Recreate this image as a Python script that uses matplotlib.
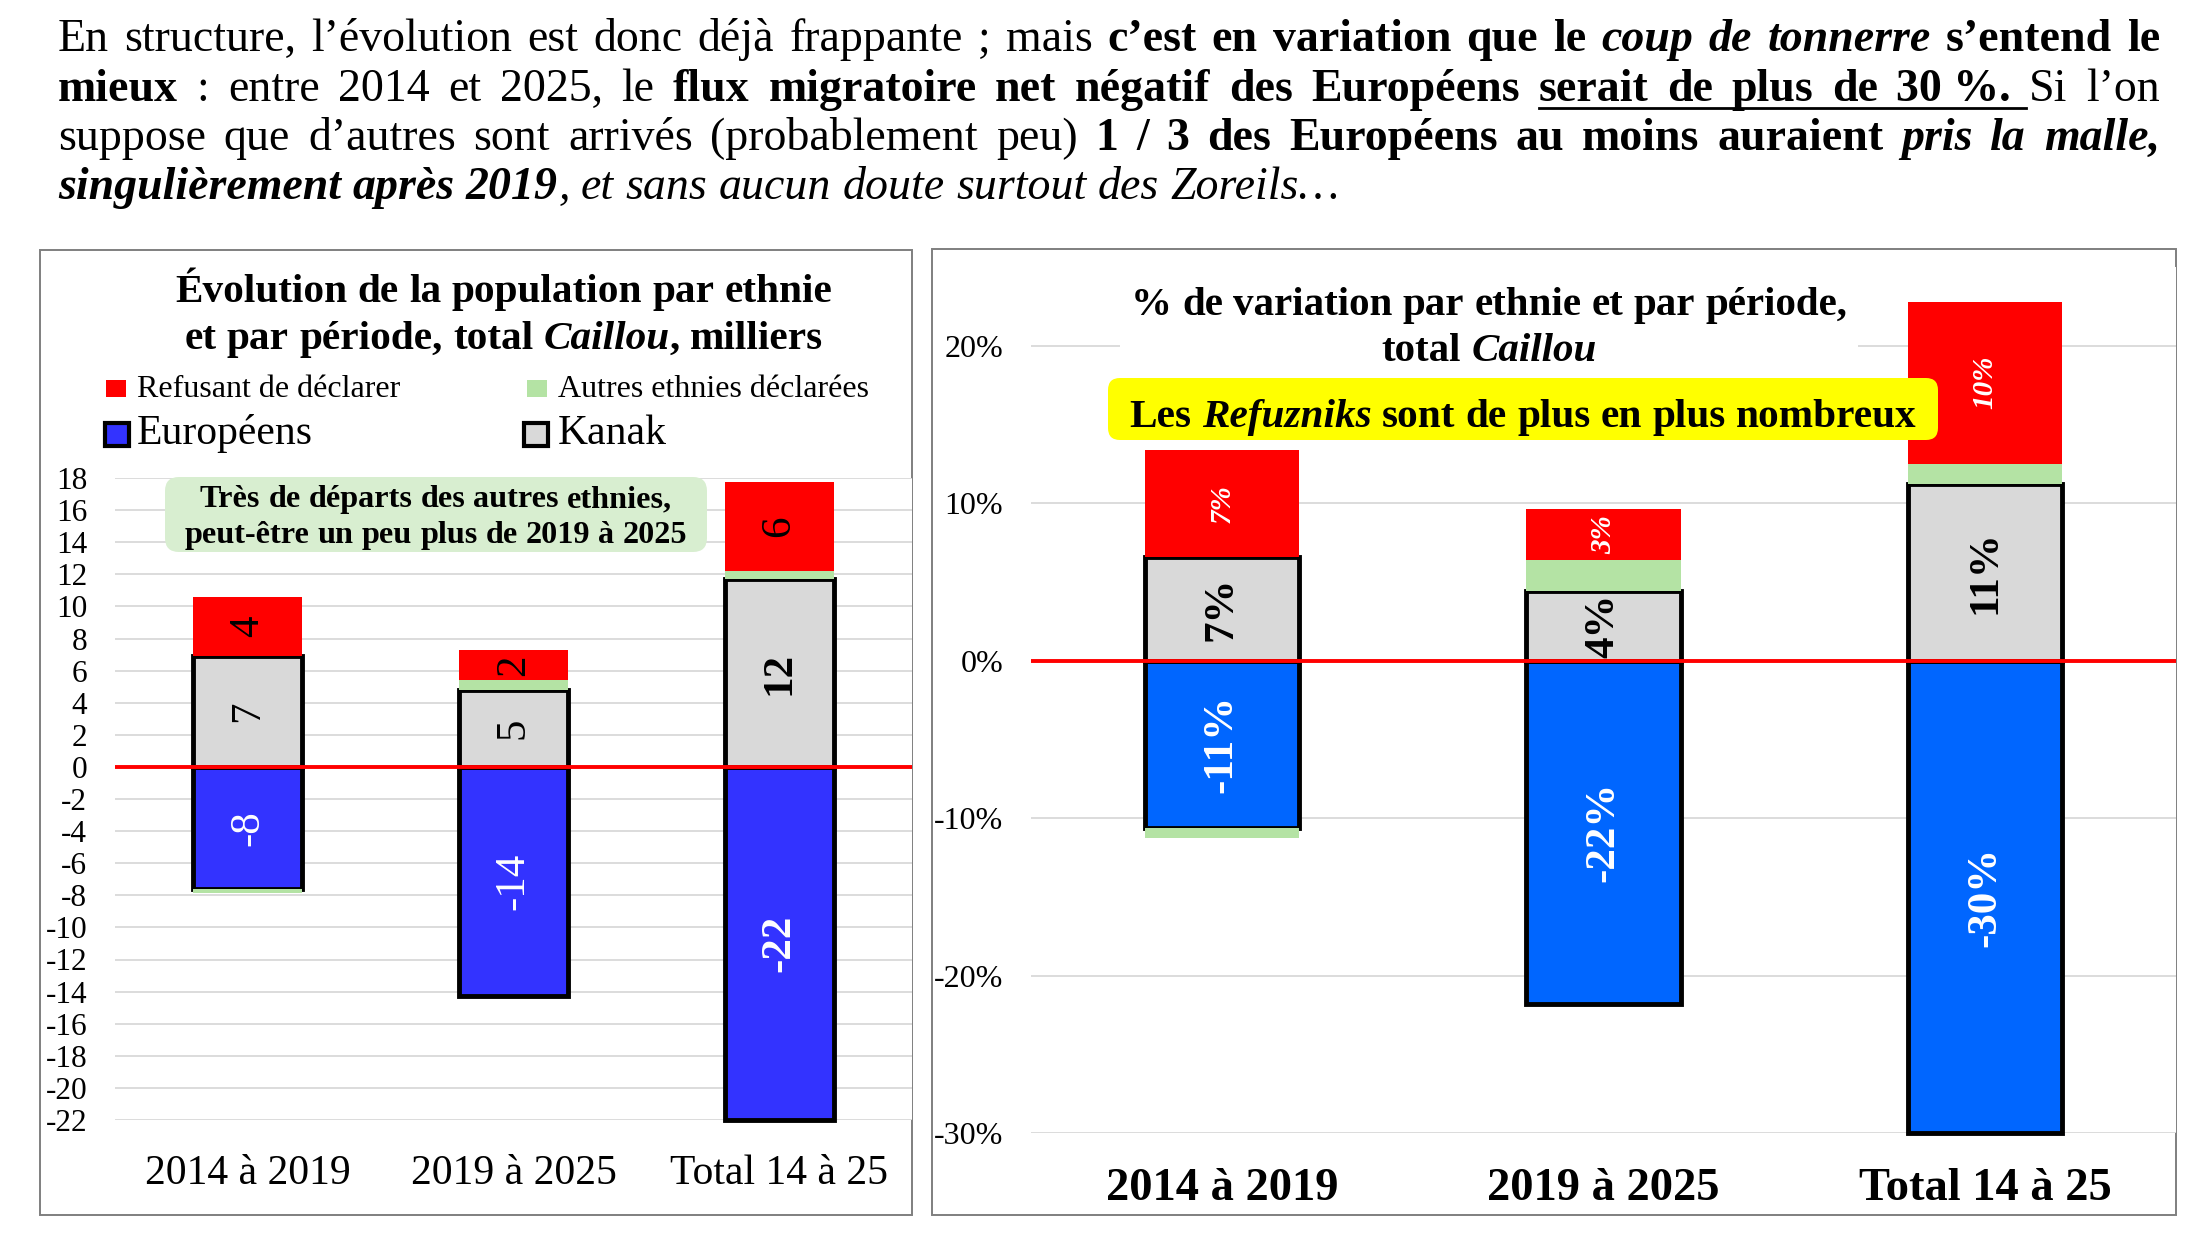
import numpy as np
import matplotlib.pyplot as plt
from matplotlib.patches import Rectangle, FancyBboxPatch
from matplotlib.lines import Line2D
from matplotlib.transforms import IdentityTransform
from matplotlib.ticker import PercentFormatter

plt.rcParams['font.family'] = ['Liberation Serif', 'DejaVu Serif']
plt.rcParams['axes.unicode_minus'] = False

# --- data -------------------------------------------------------------
categories = ["2014 à 2019", "2019 à 2025", "Total 14 à 25"]

# milliers
euro_k = [-7.6, -14.3, -22.0]
kanak_k = [6.9, 4.8, 11.7]
autres_k = [-0.25, 0.6, 0.5]
refus_k = [3.7, 1.9, 5.55]

# % de variation
euro_pct = [-0.106, -0.218, -0.300]
kanak_pct = [0.066, 0.044, 0.112]
autres_pct = [-0.0065, 0.020, 0.013]
refus_pct = [0.068, 0.032, 0.103]

left_ticks = np.arange(-22, 19, 2)
right_ticks = [-0.3, -0.2, -0.1, 0.0, 0.1, 0.2]

RED = '#FF0000'
GREEN = '#B4E3A4'
GREY = '#D9D9D9'
BLUE_L = '#3333FF'
BLUE_R = '#0066FF'

W, H = 2200, 1238
fig = plt.figure(figsize=(W / 100, H / 100), dpi=100)
renderer = fig.canvas.get_renderer()


def fx(x):
    return x / W


def fy(y):
    return 1 - y / H


def tokenise(runs):
    toks = []
    pending = False
    for run in runs:
        text, wt, st = run[0], run[1], run[2]
        ul = run[3] if len(run) > 3 else False
        parts = text.split(' ')
        for i, p in enumerate(parts):
            if i > 0:
                pending = True
            if p:
                toks.append(dict(w=p, wt=wt, st=st, ul=ul,
                                 sb=pending and len(toks) > 0))
                pending = False
    return toks


def draw_line(runs, y, size, x0=None, x1=None, xc=None, color='black'):
    toks = tokenise(runs)
    for tok in toks:
        t = fig.text(0, fy(y), tok['w'], fontsize=size, fontweight=tok['wt'],
                     fontstyle=tok['st'], ha='left', va='baseline', color=color,
                     zorder=6)
        tok['t'] = t
        tok['width'] = t.get_window_extent(renderer).width
    nsp = sum(tok['sb'] for tok in toks)
    total = sum(tok['width'] for tok in toks)
    if x0 is not None and x1 is not None:
        gap = (x1 - x0 - total) / max(nsp, 1)
        start = x0
    else:
        gap = size * 100 / 72 * 0.25
        if xc is not None:
            start = xc - (total + gap * nsp) / 2
        else:
            start = x0
    x = start
    for tok in toks:
        if tok['sb']:
            x += gap
        tok['t'].set_x(fx(x))
        tok['x'] = x
        x += tok['width']
    ul = [tok for tok in toks if tok['ul']]
    if ul:
        a = ul[0]['x']
        b = ul[-1]['x'] + ul[-1]['width'] + gap * 0.8
        fig.add_artist(Line2D([fx(a), fx(b)], [fy(y + 7)] * 2, color='black', lw=2))
    return toks


# --- paragraph on top -------------------------------------------------
TX0, TX1 = 58, 2160
PS = 33
draw_line([("En structure, l’évolution est donc déjà frappante ; mais ", 'normal', 'normal'),
           ("c’est en variation que le ", 'bold', 'normal'),
           ("coup de tonnerre", 'bold', 'italic'),
           (" s’entend le", 'bold', 'normal')], 51, PS, x0=TX0, x1=TX1)
draw_line([("mieux", 'bold', 'normal'),
           (" : entre 2014 et 2025, le ", 'normal', 'normal'),
           ("flux migratoire net négatif des Européens ", 'bold', 'normal'),
           ("serait de plus de 30\u00a0%.", 'bold', 'normal', True),
           (" Si l’on", 'normal', 'normal')], 101, PS, x0=TX0, x1=TX1)
draw_line([("suppose que d’autres sont arrivés (probablement peu) ", 'normal', 'normal'),
           ("1 / 3 des Européens au moins auraient ", 'bold', 'normal'),
           ("pris la malle,", 'bold', 'italic')], 150, PS, x0=TX0, x1=TX1)
draw_line([("singulièrement après 2019", 'bold', 'italic'),
           (", et sans aucun doute surtout des Zoreils…", 'normal', 'italic')],
          199, PS, x0=TX0)

# --- frames -----------------------------------------------------------
for (a, b, c, d) in [(40, 250, 912, 1215), (932, 249, 2176, 1215)]:
    fig.add_artist(Rectangle((fx(a), fy(d)), fx(c - a), (d - b) / H,
                             transform=fig.transFigure, fill=False,
                             edgecolor='#7F7F7F', lw=1.4, zorder=0))


def stacked(ax, series, colors, edges, width):
    pos = np.zeros(3)
    neg = np.zeros(3)
    out = []
    for vals, col, edge in zip(series, colors, edges):
        vals = np.asarray(vals, dtype=float)
        bottoms = np.where(vals >= 0, pos, neg)
        ax.bar(range(3), vals, bottom=bottoms, width=width, color=col,
               edgecolor='black' if edge else col, linewidth=3.5 if edge else 0,
               zorder=3, clip_on=False)
        out.append(bottoms)
        pos = pos + np.where(vals >= 0, vals, 0)
        neg = neg + np.where(vals < 0, vals, 0)
    return out


# --- left chart -------------------------------------------------------
axL = fig.add_axes([fx(115), fy(1120), (912 - 115) / W, (1120 - 478) / H])
series_k = [euro_k, kanak_k, autres_k, refus_k]
bots = stacked(axL, series_k, [BLUE_L, GREY, GREEN, RED],
               [True, True, False, False], 0.41)
axL.set_xlim(-0.5, 2.5)
axL.set_ylim(-22, 18)
axL.set_yticks(left_ticks)
axL.tick_params(axis='y', length=0, labelsize=22.5, pad=20)
axL.set_xticks(range(3), categories)
axL.tick_params(axis='x', length=0, labelsize=30, pad=25)
axL.grid(axis='y', color='#D9D9D9', lw=1.3, zorder=0)
axL.set_axisbelow(True)
for s in axL.spines.values():
    s.set_visible(False)
axL.axhline(0, color=RED, lw=2.8, zorder=5)

for idx, col in [(0, 'white'), (1, 'black'), (3, 'black')]:
    vals = series_k[idx]
    for i in range(3):
        axL.text(i, bots[idx][i] + vals[i] / 2, f"{vals[i]:.0f}", rotation=90,
                 ha='center', va='center', color=col, fontsize=31,
                 fontweight='bold' if (i == 2 and idx != 3) else 'normal', zorder=6)

draw_line([("Évolution de la population par ethnie", 'bold', 'normal')], 302, 29.7, xc=504)
draw_line([("et par période, total ", 'bold', 'normal'),
           ("Caillou", 'bold', 'italic'),
           (", milliers", 'bold', 'normal')], 349, 29.7, xc=504)

# legend
leg = [(106, 380, 20, 17, RED, None, "Refusant de déclarer", 137, 397, 23),
       (527, 380, 20, 17, GREEN, None, "Autres ethnies déclarées", 558, 397, 23),
       (105, 423, 24, 23, BLUE_L, 'black', "Européens", 137, 444, 30),
       (524, 423, 24, 23, GREY, 'black', "Kanak", 558, 444, 30)]
for (x, y, w, h, col, ec, lab, tx, ty, fs) in leg:
    fig.add_artist(Rectangle((fx(x), fy(y + h)), w / W, h / H, transform=fig.transFigure,
                             facecolor=col, edgecolor=ec if ec else col,
                             lw=3 if ec else 0, zorder=4))
    fig.text(fx(tx), fy(ty), lab, fontsize=fs, ha='left', va='baseline')

# green note
fig.add_artist(FancyBboxPatch((165, H - 552), 542, 75, boxstyle="round,pad=0,rounding_size=14",
                              transform=IdentityTransform(), facecolor='#D8EED0',
                              edgecolor='none', zorder=4))
draw_line([("Très de départs des autres ethnies,", 'bold', 'normal')], 507, 23.2, xc=436)
draw_line([("peut-être un peu plus de 2019 à 2025", 'bold', 'normal')], 543, 23.2, xc=436)

# --- right chart ------------------------------------------------------
axR = fig.add_axes([fx(1031), fy(1133), (2176 - 1031) / W, (1133 - 267) / H])
series_p = [euro_pct, kanak_pct, autres_pct, refus_pct]
botsR = stacked(axR, series_p, [BLUE_R, GREY, GREEN, RED],
                [True, True, False, False], 0.405)
axR.set_xlim(-0.5, 2.5)
axR.set_ylim(-0.30, 0.25)
axR.set_yticks(right_ticks)
axR.yaxis.set_major_formatter(PercentFormatter(xmax=1, decimals=0))
axR.tick_params(axis='y', length=0, labelsize=23, pad=20)
axR.set_xticks(range(3), categories)
for lab in axR.get_xticklabels():
    lab.set_fontweight('bold')
axR.tick_params(axis='x', length=0, labelsize=33.5, pad=25)
axR.grid(axis='y', color='#D9D9D9', lw=1.3, zorder=0)
axR.set_axisbelow(True)
for s in axR.spines.values():
    s.set_visible(False)
axR.axhline(0, color=RED, lw=2.8, zorder=5)

for idx, col, fs, st in [(0, 'white', 31, 'normal'), (1, 'black', 31, 'normal'),
                         (3, 'white', 21, 'italic')]:
    vals = series_p[idx]
    for i in range(3):
        axR.text(i, botsR[idx][i] + vals[i] / 2, f"{vals[i] * 100:.0f}%", rotation=90,
                 ha='center', va='center', color=col, fontsize=fs,
                 fontweight='bold', fontstyle=st, zorder=6)

# white box behind title
fig.add_artist(Rectangle((fx(1120), fy(368)), (1858 - 1120) / W, (368 - 272) / H,
                         transform=fig.transFigure, facecolor='white',
                         edgecolor='none', zorder=2))
draw_line([("% de variation par ethnie et par période,", 'bold', 'normal')], 315, 29.5, xc=1489)
draw_line([("total ", 'bold', 'normal'), ("Caillou", 'bold', 'italic')], 361, 29.5, xc=1489)

fig.add_artist(FancyBboxPatch((1108, H - 440), 830, 62, boxstyle="round,pad=0,rounding_size=12",
                              transform=IdentityTransform(), facecolor='#FFFF00',
                              edgecolor='none', zorder=4))
draw_line([("Les ", 'bold', 'normal'), ("Refuzniks", 'bold', 'italic'),
           (" sont de plus en plus nombreux", 'bold', 'normal')], 427, 29.7, xc=1523)

fig.savefig("out.png", dpi=100)
